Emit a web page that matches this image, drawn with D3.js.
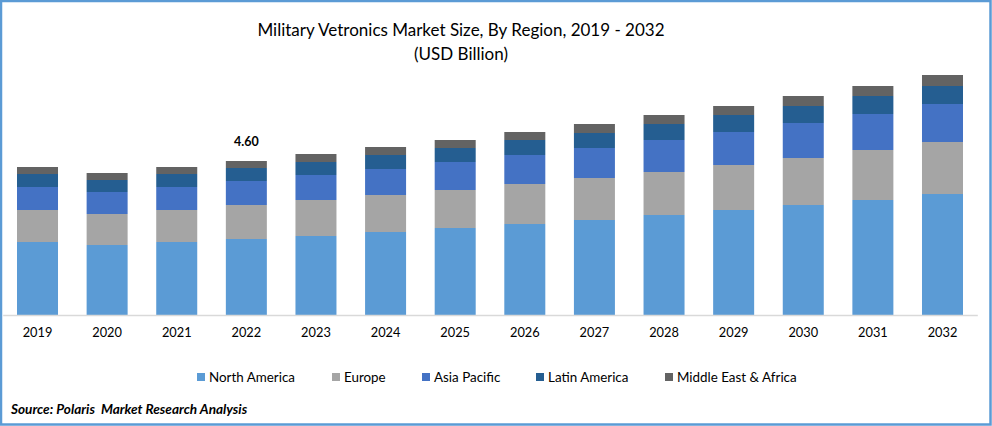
<!DOCTYPE html>
<html>
<head>
<meta charset="utf-8">
<script src="https://cdn.jsdelivr.net/npm/d3@7"></script>
<style>
  html, body { margin: 0; padding: 0; background: #fff; }
  svg { display: block; font-family: Lato, "Open Sans", sans-serif; }
</style>
</head>
<body>
<script>
var years = ["2019","2020","2021","2022","2023","2024","2025","2026","2027","2028","2029","2030","2031","2032"];
var regions = ["North America","Europe","Asia Pacific","Latin America","Middle East & Africa"];
var regionColors = ["#5b9bd5","#a5a5a5","#4472c4","#255e91","#636363"];

var northAmerica = [2.18,2.09,2.18,2.27,2.36,2.48,2.60,2.72,2.84,2.99,3.14,3.29,3.43,3.61];
var europe       = [0.96,0.93,0.96,1.02,1.08,1.11,1.14,1.19,1.25,1.28,1.34,1.40,1.49,1.55];
var asiaPacific  = [0.69,0.66,0.69,0.71,0.75,0.78,0.84,0.87,0.90,0.96,0.99,1.05,1.08,1.13];
var latinAmerica = [0.39,0.36,0.39,0.39,0.39,0.42,0.42,0.45,0.45,0.48,0.51,0.51,0.54,0.54];
var middleEast   = [0.21,0.21,0.21,0.21,0.24,0.24,0.24,0.24,0.27,0.27,0.27,0.30,0.30,0.33];

var labelYear = "2022";
var labelValue = "4.60";
var titleLines = ["Military Vetronics Market Size, By Region, 2019 - 2032","(USD Billion)"];
var sourceText = "Source: Polaris  Market Research Analysis";

var w = 992, h = 426;
var baseline = 315;

var svg = d3.select("body").append("svg")
  .attr("width", w)
  .attr("height", h)
  .attr("viewBox", `0 0 ${w} ${h}`);

//white background and blue frame
svg.append("rect")
  .attr("x", 1).attr("y", 1)
  .attr("width", 989.5).attr("height", 423.5)
  .attr("fill", "#fff")
  .attr("stroke", "#5b9bd5")
  .attr("stroke-width", 2.5);

//scales
var x = d3.scaleBand()
  .domain(years)
  .range([2.7, 977.3])
  .paddingInner(0.411)
  .paddingOuter(0.2055);

var y = d3.scaleLinear()
  .domain([0, 4.6])
  .range([baseline, 161]);

//stack the series
var rows = years.map(function(year, i){
  return {
    year: year,
    "North America": northAmerica[i],
    "Europe": europe[i],
    "Asia Pacific": asiaPacific[i],
    "Latin America": latinAmerica[i],
    "Middle East & Africa": middleEast[i]
  };
});
var series = d3.stack().keys(regions)(rows);
var color = d3.scaleOrdinal().domain(regions).range(regionColors);

//bars
svg.append("g").selectAll("g")
  .data(series)
  .enter()
  .append("g")
    .attr("fill", d => color(d.key))
  .selectAll("rect")
  .data(d => d)
  .enter()
  .append("rect")
    .attr("x", d => x(d.data.year))
    .attr("width", x.bandwidth())
    .attr("y", d => Math.round(y(d[1])))
    .attr("height", d => Math.round(y(d[0])) - Math.round(y(d[1])));

//x axis
var axis = svg.append("g")
  .attr("transform", `translate(0,${baseline})`)
  .call(d3.axisBottom(x).tickSize(0).tickPadding(13));
axis.select(".domain")
  .attr("stroke", "#d9d9d9")
  .attr("stroke-width", 1.5);
axis.selectAll("text")
  .attr("fill", "#000")
  .style("font-family", "Lato, sans-serif")
  .style("font-size", "12.8px");

//title
svg.append("g").selectAll("text")
  .data(titleLines)
  .enter()
  .append("text")
    .attr("x", 461)
    .attr("y", (d, i) => 36 + i * 23.5)
    .attr("text-anchor", "middle")
    .attr("fill", "#000")
    .style("font-size", "17px")
    .text(d => d);

//value label
svg.append("text")
  .attr("x", x(labelYear) + x.bandwidth() / 2)
  .attr("y", 146)
  .attr("text-anchor", "middle")
  .attr("fill", "#000")
  .style("font-size", "12.5px")
  .style("font-weight", "bold")
  .text(labelValue);

//legend
var legendX = [197, 332, 422, 536, 665];
var legend = svg.append("g").selectAll("g")
  .data(regions)
  .enter()
  .append("g")
    .attr("transform", (d, i) => `translate(${legendX[i]},373)`);
legend.append("rect")
  .attr("width", 8)
  .attr("height", 8)
  .attr("fill", d => color(d));
legend.append("text")
  .attr("x", 12)
  .attr("y", 8.5)
  .attr("fill", "#000")
  .style("font-size", "13.4px")
  .text(d => d);

//source
svg.append("text")
  .attr("x", 11)
  .attr("y", 414)
  .attr("fill", "#000")
  .style("font-size", "13.6px")
  .style("font-weight", "bold")
  .style("font-style", "italic")
  .style("white-space", "pre")
  .text(sourceText);
</script>
</body>
</html>
